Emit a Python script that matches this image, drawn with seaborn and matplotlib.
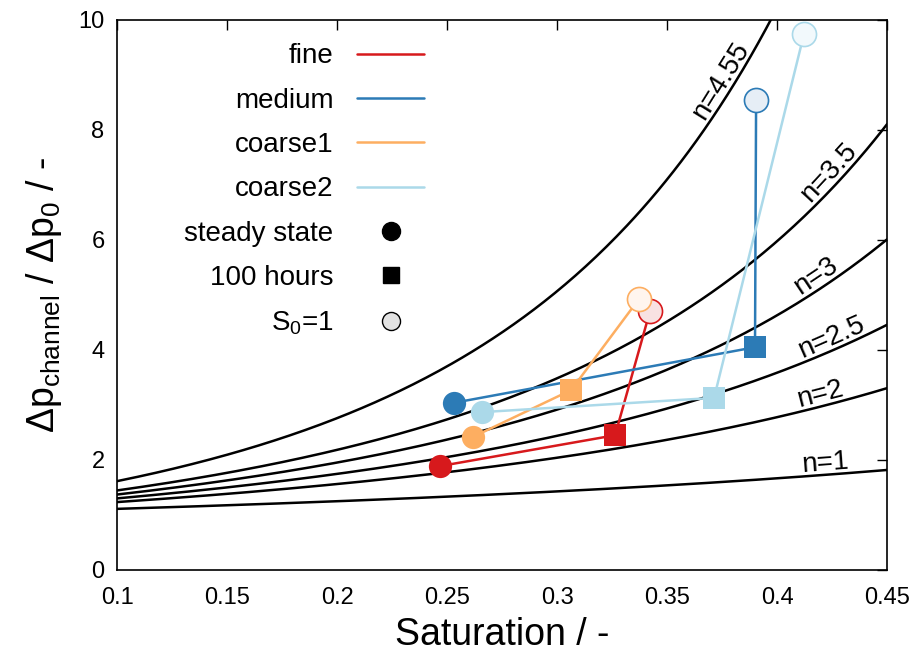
import numpy as np
import pandas as pd
import matplotlib
matplotlib.use("Agg")
import matplotlib.pyplot as plt
from matplotlib.lines import Line2D
import seaborn as sns

# Exponents of the model curves dp/dp0 = (1 - S)^(-n)
exponents = [1, 2, 2.5, 3, 3.5, 4.55]
exponent_labels = ["n=1", "n=2", "n=2.5", "n=3", "n=3.5", "n=4.55"]
# where each curve label sits (saturation) and its baseline gap above the curve (points)
label_saturation = [0.4225, 0.421, 0.427, 0.421, 0.428, 0.3795]
label_gap = [3.5, 3.5, 4, 4, 4, 4]

# Measured points, order: steady state, 100 hours, S0=1
series = ["fine", "medium", "coarse1", "coarse2"]
states = ["steady state", "100 hours", "S$_0$=1"]
saturation = {
    "fine":    [0.247, 0.3264, 0.3423],
    "medium":  [0.2532, 0.390, 0.3905],
    "coarse1": [0.2618, 0.3064, 0.3373],
    "coarse2": [0.2659, 0.3714, 0.4123],
}
pressure_ratio = {
    "fine":    [1.89, 2.45, 4.71],
    "medium":  [3.04, 4.05, 8.55],
    "coarse1": [2.42, 3.27, 4.93],
    "coarse2": [2.87, 3.13, 9.75],
}
colors = {"fine": "#d7191c", "medium": "#2c7bb6",
          "coarse1": "#fdae61", "coarse2": "#abd9e9"}
tints = {"fine": "#f8e2e2", "medium": "#e6eef6",
         "coarse1": "#fff5ee", "coarse2": "#f2f9fc"}

x_ticks = [0.1, 0.15, 0.2, 0.25, 0.3, 0.35, 0.4, 0.45]
x_tick_labels = ["0.1", "0.15", "0.2", "0.25", "0.3", "0.35", "0.4", "0.45"]
y_ticks = [0, 2, 4, 6, 8, 10]

sns.set_theme(style="white")
plt.rcParams.update({
    "font.family": ["Liberation Sans", "DejaVu Sans"],
    "mathtext.default": "regular",
    "text.color": "black",
    "axes.labelcolor": "black",
    "xtick.direction": "in",
    "ytick.direction": "in",
    "xtick.top": True,
    "ytick.right": True,
    "xtick.major.size": 7,
    "ytick.major.size": 7,
    "axes.edgecolor": "black",
    "axes.linewidth": 1.2,
})

fig = plt.figure(figsize=(9.15, 6.55), dpi=100)
ax = fig.add_axes([0.1279, 0.1298, 0.8415, 0.8397])

# model curves
s_grid = np.linspace(0.1, 0.45, 300)
curves = pd.DataFrame({
    "S": np.tile(s_grid, len(exponents)),
    "ratio": np.concatenate([(1 - s_grid) ** (-n) for n in exponents]),
    "n": np.repeat(exponent_labels, len(s_grid)),
})
sns.lineplot(data=curves, x="S", y="ratio", units="n", estimator=None,
             color="black", lw=1.8, ax=ax, legend=False, zorder=2)

ax.set_xlim(0.1, 0.45)
ax.set_ylim(0, 10)
fig.canvas.draw()

# curve labels, rotated along the curves
for n, lab, s, gap in zip(exponents, exponent_labels, label_saturation, label_gap):
    y = (1 - s) ** (-n)
    slope = n * (1 - s) ** (-n - 1)
    p0 = ax.transData.transform((s, y))
    p1 = ax.transData.transform((s + 0.001, y + slope * 0.001))
    ang = np.degrees(np.arctan2(p1[1] - p0[1], p1[0] - p0[0]))
    nx, ny = -np.sin(np.radians(ang)), np.cos(np.radians(ang))
    ax.annotate(lab, (s, y), xytext=(nx * gap, ny * gap), textcoords="offset points",
                rotation=ang, rotation_mode="anchor", ha="center", va="baseline",
                fontsize=20, color="black", zorder=3)

# measured paths
rows = []
for name in series:
    for st, sx, py in zip(states, saturation[name], pressure_ratio[name]):
        rows.append({"series": name, "state": st, "S": sx, "ratio": py})
points = pd.DataFrame(rows)

for name in series:
    d = points[points["series"] == name]
    sns.lineplot(data=d, x="S", y="ratio", sort=False, estimator=None,
                 color=colors[name], lw=1.8, ax=ax, legend=False, zorder=4)
    ss = d[d["state"] == states[0]]
    hh = d[d["state"] == states[1]]
    s0 = d[d["state"] == states[2]]
    sns.scatterplot(data=ss, x="S", y="ratio", marker="o", s=280,
                    color=colors[name], edgecolor=colors[name], linewidth=0,
                    ax=ax, legend=False, zorder=5)
    sns.scatterplot(data=hh, x="S", y="ratio", marker="s", s=260,
                    color=colors[name], edgecolor=colors[name], linewidth=0,
                    ax=ax, legend=False, zorder=5)
    sns.scatterplot(data=s0, x="S", y="ratio", marker="o", s=300,
                    color=tints[name], edgecolor=colors[name], linewidth=1.2,
                    ax=ax, legend=False, zorder=5)

ax.set_xticks(x_ticks)
ax.set_xticklabels(x_tick_labels)
ax.set_yticks(y_ticks)
ax.tick_params(axis="both", labelsize=17, colors="black", width=1)
ax.tick_params(axis="x", pad=12)
ax.tick_params(axis="y", pad=9)
ax.set_xlabel("Saturation / -", fontsize=27, labelpad=6)
ax.set_ylabel(r"$\Delta$p$_{channel}$ / $\Delta$p$_0$ / -", fontsize=27, labelpad=10)

handles = [Line2D([], [], color=colors[n], lw=1.8) for n in series]
handles += [
    Line2D([], [], ls="none", marker="o", ms=13, color="black"),
    Line2D([], [], ls="none", marker="s", ms=11, color="black"),
    Line2D([], [], ls="none", marker="o", ms=13, markerfacecolor="#e3e3e3",
           markeredgecolor="black", markeredgewidth=1),
]
labels = series + states
leg = ax.legend(handles, labels, loc="upper right", bbox_to_anchor=(0.431, 1.003),
                frameon=False, markerfirst=False, fontsize=20,
                handlelength=2.4, handletextpad=0.86, labelspacing=0.66)
for t in leg.get_texts():
    t.set_ha("right")

fig.savefig("out.png", dpi=100)
